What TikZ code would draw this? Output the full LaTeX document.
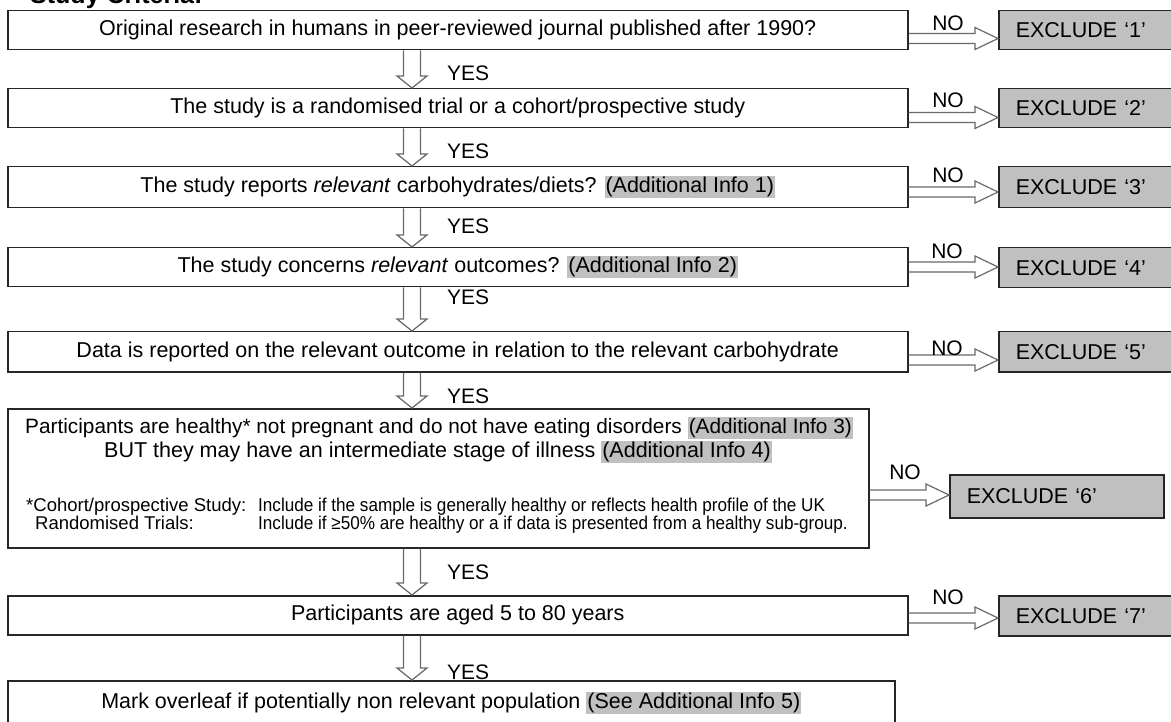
\documentclass[tikz,border=0pt]{standalone}
\usepackage{fontspec}
\setmainfont{Liberation Sans}
\newfontfamily\notefont[FakeStretch=0.92]{Liberation Sans}
\usetikzlibrary{calc}

\definecolor{boxgray}{RGB}{192,192,192}
\definecolor{arrowgray}{RGB}{105,105,105}

% grey highlight behind the "Additional Info" references
\newcommand{\info}[1]{{\setlength{\fboxsep}{1pt}\colorbox{boxgray}{#1}}}

\tikzset{
  crit/.style={draw=black!85, line width=1.5pt, fill=white, anchor=north west,
    inner sep=0pt, font=\fontsize{21.5}{26}\selectfont},
  excl/.style={crit, fill=boxgray, text width=180pt, align=left, inner xsep=17pt},
  blk/.style={draw=arrowgray, line width=1.2pt, line join=miter},
  lbl/.style={inner sep=0pt, font=\fontsize{21}{25}\selectfont},
  note/.style={inner sep=0pt, anchor=base west, font=\notefont\fontsize{18.6}{22}\selectfont},
  notehead/.style={note, font=\fontsize{18.5}{22}\selectfont},
}

% hollow arrow to the right, at the height of coordinate #3
\newcommand{\noarrow}[3]{%
  \draw[blk] ($(#1.east |- #3)+(0,-5)$) -- ($(#2.west |- #3)+(-23,-5)$)
    -- ($(#2.west |- #3)+(-23,-11)$) -- (#2.west |- #3)
    -- ($(#2.west |- #3)+(-23,11)$) -- ($(#2.west |- #3)+(-23,5)$)
    -- ($(#1.east |- #3)+(0,5)$);}

% hollow arrow downwards along the column (col)
\newcommand{\yesarrow}[2]{%
  \draw[blk] ($(#1.south -| col)+(-8.5,0)$) -- ($(#2.north -| col)+(-8.5,-12)$)
    -- ($(#2.north -| col)+(-15,-12)$) -- (#2.north -| col)
    -- ($(#2.north -| col)+(15,-12)$) -- ($(#2.north -| col)+(8.5,-12)$)
    -- ($(#1.south -| col)+(8.5,0)$);}

\begin{document}
\begin{tikzpicture}[x=1pt, y=-1pt]
  \useasboundingbox (0,0) rectangle (1171,722);
  \clip (0,0) rectangle (1171,722);

  \coordinate (col) at (412,0);
  \node[anchor=base west, inner sep=0pt, font=\fontsize{25}{30}\selectfont\bfseries] (title) at (30,4) {Study Criteria:};

  % criteria boxes
  \node[crit, minimum width=900pt, minimum height=39pt] (q1) at (7,10)
    {Original research in humans in peer-reviewed journal published after 1990?};
  \node[crit, minimum width=900pt, minimum height=39pt] (q2) at (7,88)
    {The study is a randomised trial or a cohort/prospective study};
  \node[crit, minimum width=900pt, minimum height=41pt] (q3) at (7,166)
    {The study reports \emph{relevant} carbohydrates/diets? \info{(Additional Info 1)}};
  \node[crit, minimum width=900pt, minimum height=39pt] (q4) at (7,247)
    {The study concerns \emph{relevant} outcomes? \info{(Additional Info 2)}};
  \node[crit, minimum width=900pt, minimum height=40pt] (q5) at (7,331)
    {Data is reported on the relevant outcome in relation to the relevant carbohydrate};
  \node[crit, minimum width=861pt, minimum height=139pt] (q6) at (7,408) {};
  \node[crit, minimum width=900pt, minimum height=39pt] (q7) at (7,595)
    {Participants are aged 5 to 80 years};
  \node[crit, minimum width=887pt, minimum height=44pt] (q8) at (7,680)
    {Mark overleaf if potentially non relevant population \info{(See Additional Info 5)}};

  % text of the health box
  \node[lbl, font=\fontsize{20.8}{25}\selectfont] (h1) at (439,428)
    {Participants are healthy* not pregnant and do not have eating disorders \info{(Additional Info 3)}};
  \node[lbl, font=\fontsize{21.5}{26}\selectfont] (h2) at (438,452)
    {BUT they may have an intermediate stage of illness \info{(Additional Info 4)}};
  \node[notehead] (n1) at (26,511) {*Cohort/prospective Study:};
  \node[notehead] (n2) at (35,529) {Randomised Trials:};
  \node[note] (n3) at (258,511) {Include if the sample is generally healthy or reflects health profile of the UK};
  \node[note] (n4) at (258,529) {Include if ≥50\% are healthy or a if data is presented from a healthy sub-group.};

  % exclusion boxes
  \node[excl, minimum height=39pt] (x1) at (998,10) {EXCLUDE ‘1’};
  \node[excl, minimum height=39pt] (x2) at (998,88) {EXCLUDE ‘2’};
  \node[excl, minimum height=41pt] (x3) at (998,166) {EXCLUDE ‘3’};
  \node[excl, minimum height=40pt] (x4) at (998,247) {EXCLUDE ‘4’};
  \node[excl, minimum height=40pt] (x5) at (998,331) {EXCLUDE ‘5’};
  \node[excl, minimum height=43pt] (x6) at (949,474) {EXCLUDE ‘6’};
  \node[excl, minimum height=40pt] (x7) at (998,595) {EXCLUDE ‘7’};

  % NO arrows
  \coordinate (r1) at (0,38.5);
  \coordinate (r2) at (0,117.5);
  \coordinate (r3) at (0,192);
  \coordinate (r4) at (0,267);
  \coordinate (r5) at (0,360);
  \coordinate (r6) at (0,495);
  \coordinate (r7) at (0,618);
  \noarrow{q1}{x1}{r1}
  \noarrow{q2}{x2}{r2}
  \noarrow{q3}{x3}{r3}
  \noarrow{q4}{x4}{r4}
  \noarrow{q5}{x5}{r5}
  \noarrow{q6}{x6}{r6}
  \noarrow{q7}{x7}{r7}
  \node[lbl] (no1) at (948,23) {NO};
  \node[lbl] (no2) at (948,100) {NO};
  \node[lbl] (no3) at (948,175) {NO};
  \node[lbl] (no4) at (947,251) {NO};
  \node[lbl] (no5) at (947,348) {NO};
  \node[lbl] (no6) at (905,472) {NO};
  \node[lbl] (no7) at (948,597) {NO};

  % YES arrows
  \yesarrow{q1}{q2}
  \yesarrow{q2}{q3}
  \yesarrow{q3}{q4}
  \yesarrow{q4}{q5}
  \yesarrow{q5}{q6}
  \yesarrow{q6}{q7}
  \yesarrow{q7}{q8}
  \node[lbl, anchor=west] (yes1) at (447,73) {YES};
  \node[lbl, anchor=west] (yes2) at (447,151) {YES};
  \node[lbl, anchor=west] (yes3) at (447,226) {YES};
  \node[lbl, anchor=west] (yes4) at (447,297) {YES};
  \node[lbl, anchor=west] (yes5) at (447,396) {YES};
  \node[lbl, anchor=west] (yes6) at (447,572) {YES};
  \node[lbl, anchor=west] (yes7) at (447,672) {YES};
\end{tikzpicture}
\end{document}
